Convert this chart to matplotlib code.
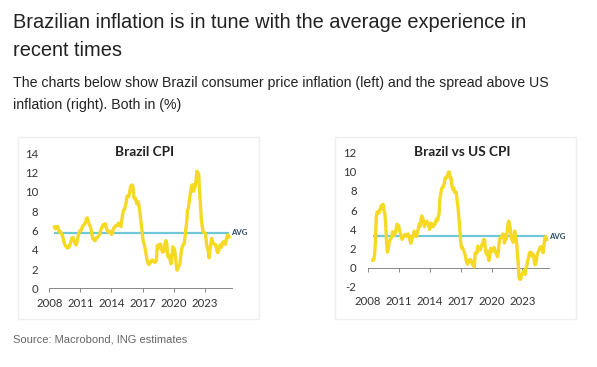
import matplotlib.pyplot as plt
import matplotlib.patches as mpatches
import numpy as np

plt.rcParams['axes.unicode_minus'] = False

# monthly values, Jul 2008 .. May 2025
start_year = 2008
start_month = 7

brazil_cpi = [
    6.37, 6.17, 6.25, 6.41, 6.39, 5.90,
    5.84, 5.90, 5.61, 5.53, 5.20, 4.80, 4.50, 4.36, 4.34, 4.17, 4.22, 4.31,
    4.59, 4.83, 5.17, 5.26, 5.22, 4.84, 4.60, 4.49, 4.70, 5.20, 5.63, 5.91,
    5.99, 6.01, 6.30, 6.51, 6.55, 6.71, 6.87, 7.23, 7.31, 6.97, 6.64, 6.50,
    6.22, 5.85, 5.24, 5.10, 4.99, 4.92, 5.20, 5.24, 5.28, 5.45, 5.53, 5.84,
    6.15, 6.31, 6.59, 6.49, 6.50, 6.70, 6.27, 6.09, 5.86, 5.84, 5.77, 5.91,
    5.59, 5.68, 6.15, 6.28, 6.37, 6.52, 6.50, 6.51, 6.75, 6.59, 6.56, 6.41,
    7.14, 7.70, 8.13, 8.17, 8.47, 8.89, 9.56, 9.53, 9.49, 9.93, 10.48, 10.67,
    10.71, 10.36, 9.39, 9.28, 9.32, 8.84, 8.74, 8.97, 8.48, 7.87, 6.99, 6.29,
    5.35, 4.76, 4.57, 4.08, 3.60, 3.00, 2.71, 2.46, 2.54, 2.70, 2.80, 2.95,
    2.86, 2.84, 2.68, 2.76, 2.86, 4.39, 4.48, 4.19, 4.53, 4.56, 4.05, 3.75,
    3.78, 3.89, 4.58, 4.94, 4.66, 3.37, 3.22, 3.43, 2.89, 2.54, 3.27, 4.31,
    4.19, 4.01, 3.30, 2.40, 1.88, 2.13, 2.31, 2.44, 3.14, 3.92, 4.31, 4.52,
    4.56, 5.20, 6.10, 6.76, 8.06, 8.35, 8.99, 9.68, 10.25, 10.67, 10.74, 10.06,
    10.38, 10.54, 11.30, 12.13, 11.73, 11.89, 10.07, 8.73, 7.17, 6.47, 5.90, 5.79,
    5.77, 5.60, 4.65, 4.18, 3.94, 3.16, 3.99, 4.61, 5.19, 4.82, 4.68, 4.62,
    4.51, 4.50, 3.93, 3.69, 3.93, 4.23, 4.50, 4.24, 4.42, 4.76, 4.87, 4.83,
    4.56, 5.06, 5.48, 5.53, 5.32,
]

brazil_us_spread = [
    0.77, 0.77, 1.35, 2.71, 5.29, 5.80,
    5.84, 5.70, 6.01, 6.23, 6.50, 6.20, 6.60, 5.86, 5.64, 4.37, 2.42, 1.61,
    1.99, 2.73, 2.87, 3.06, 3.22, 3.74, 3.40, 3.39, 3.60, 4.00, 4.53, 4.41,
    4.39, 3.91, 3.60, 3.31, 2.95, 3.11, 3.27, 3.43, 3.41, 3.47, 3.24, 3.50,
    3.32, 2.95, 2.54, 2.80, 3.29, 3.22, 3.80, 3.54, 3.28, 3.25, 3.73, 4.14,
    4.55, 4.31, 5.09, 5.39, 5.10, 4.90, 4.27, 4.59, 4.66, 4.84, 4.57, 4.41,
    3.99, 4.58, 4.65, 4.28, 4.27, 4.42, 4.50, 4.81, 5.05, 4.89, 5.26, 5.61,
    7.24, 7.70, 8.23, 8.37, 8.47, 8.79, 9.36, 9.33, 9.49, 9.73, 9.98, 9.97,
    9.31, 9.36, 8.49, 8.18, 8.32, 7.84, 7.94, 7.87, 6.98, 6.27, 5.29, 4.19,
    2.85, 2.06, 2.17, 1.88, 1.70, 1.40, 1.01, 0.56, 0.34, 0.70, 0.60, 0.85,
    0.76, 0.64, 0.28, 0.26, 0.06, 1.49, 1.58, 1.49, 2.23, 2.06, 1.85, 1.85,
    2.18, 2.39, 2.68, 2.94, 2.86, 1.77, 1.42, 1.73, 1.19, 0.74, 1.17, 2.01,
    1.69, 1.71, 1.80, 2.10, 1.78, 1.53, 1.31, 1.14, 1.74, 2.72, 3.11, 3.12,
    3.16, 3.50, 3.50, 2.56, 3.06, 2.95, 3.59, 4.38, 4.85, 4.47, 3.94, 3.06,
    2.88, 2.64, 2.80, 3.83, 3.13, 2.79, 1.57, 0.43, -1.03, -1.23, -1.20, -0.71,
    -0.63, -0.40, -0.35, -0.72, -0.06, 0.16, 0.79, 0.91, 1.49, 1.62, 1.58, 1.22,
    1.41, 1.30, 0.43, 0.29, 0.63, 1.23, 1.60, 1.74, 2.02, 2.16, 2.17, 1.93,
    1.56, 2.26, 3.08, 3.23, 2.92,
]

avg_cpi = 5.75
avg_spread = 3.25

year_ticks = [2008, 2011, 2014, 2017, 2020, 2023]
chart_titles = ['Brazil CPI', 'Brazil vs US CPI']

dates = start_year + (start_month - 1) / 12 + np.arange(len(brazil_cpi)) / 12

yellow = '#F5D923'
blue = '#6FC7D8'
navy = '#2C4A6B'
chart_font = ['Lato', 'DejaVu Sans']

fig = plt.figure(figsize=(5.97, 3.67), dpi=100)
W, H = 597, 367

# light frames around the two charts
for x0 in (18, 335):
    fig.patches.append(mpatches.Rectangle((x0 / W, 1 - 319 / H), 241 / W, 182 / H,
                                          transform=fig.transFigure, fill=False,
                                          edgecolor='#efefef', linewidth=1))

panels = [
    (brazil_cpi, avg_cpi, (0, 14), range(0, 15, 2), [49.3, 288.3, 182.4, 135.0]),
    (brazil_us_spread, avg_spread, (-2, 12), range(-2, 13, 2), [367.7, 286.7, 181.6, 134.0]),
]

for (vals, avg, ylim, yticks, box), title in zip(panels, chart_titles):
    x, ybot, w, h = box
    ax = fig.add_axes([x / W, 1 - ybot / H, w / W, h / H])
    ax.plot(dates, vals, color=yellow, linewidth=2.4, solid_joinstyle='round', zorder=3)
    ax.hlines(avg, dates[0], dates[-1], color=blue, linewidth=1.6, zorder=2)
    ax.text(dates[-1] + 0.2, avg, 'AVG', color=navy, fontsize=5.6, fontweight='bold',
            va='center', ha='left', family=chart_font)
    ax.set_xlim(2008, 2025.6)
    ax.set_ylim(*ylim)
    ax.set_yticks(list(yticks))
    ax.set_xticks(year_ticks)
    for s in ax.spines.values():
        s.set_visible(False)
    ax.tick_params(axis='both', length=0, labelsize=8.2, colors='#333333')
    ax.tick_params(axis='y', pad=8)
    ax.tick_params(axis='x', pad=7)
    for lab in ax.get_xticklabels() + ax.get_yticklabels():
        lab.set_family(chart_font)
    # x-axis line at zero with small tick marks
    zero = (0 - ylim[0]) / (ylim[1] - ylim[0])
    sec = ax.secondary_xaxis(zero)
    sec.set_xticks(year_ticks + [2026])
    sec.tick_params(length=3, width=0.7, color='#888888', labelbottom=False)
    sec.spines['bottom'].set_color('#888888')
    sec.spines['bottom'].set_linewidth(0.7)
    fig.text((x + w * 0.52) / W, 1 - 152 / H, title, ha='center', va='center',
             fontsize=9.8, fontweight='bold', family=chart_font, color='#222222')

head_font = ['Liberation Sans', 'DejaVu Sans']
fig.text(13 / W, 1 - 23 / H, 'Brazilian inflation is in tune with the average experience in',
         fontsize=14.4, family=head_font, color='#222222', va='center')
fig.text(13 / W, 1 - 51 / H, 'recent times', fontsize=14.4, family=head_font,
         color='#222222', va='center')
fig.text(13 / W, 1 - 83 / H, 'The charts below show Brazil consumer price inflation (left) and the spread above US',
         fontsize=10.2, family=head_font, color='#222222', va='center')
fig.text(13 / W, 1 - 105 / H, 'inflation (right). Both in (%)', fontsize=10.2, family=head_font,
         color='#222222', va='center')
fig.text(13 / W, 1 - 339 / H, 'Source: Macrobond, ING estimates', fontsize=8.0,
         family=head_font, color='#666666', va='center')

fig.savefig('out.png', dpi=100)
